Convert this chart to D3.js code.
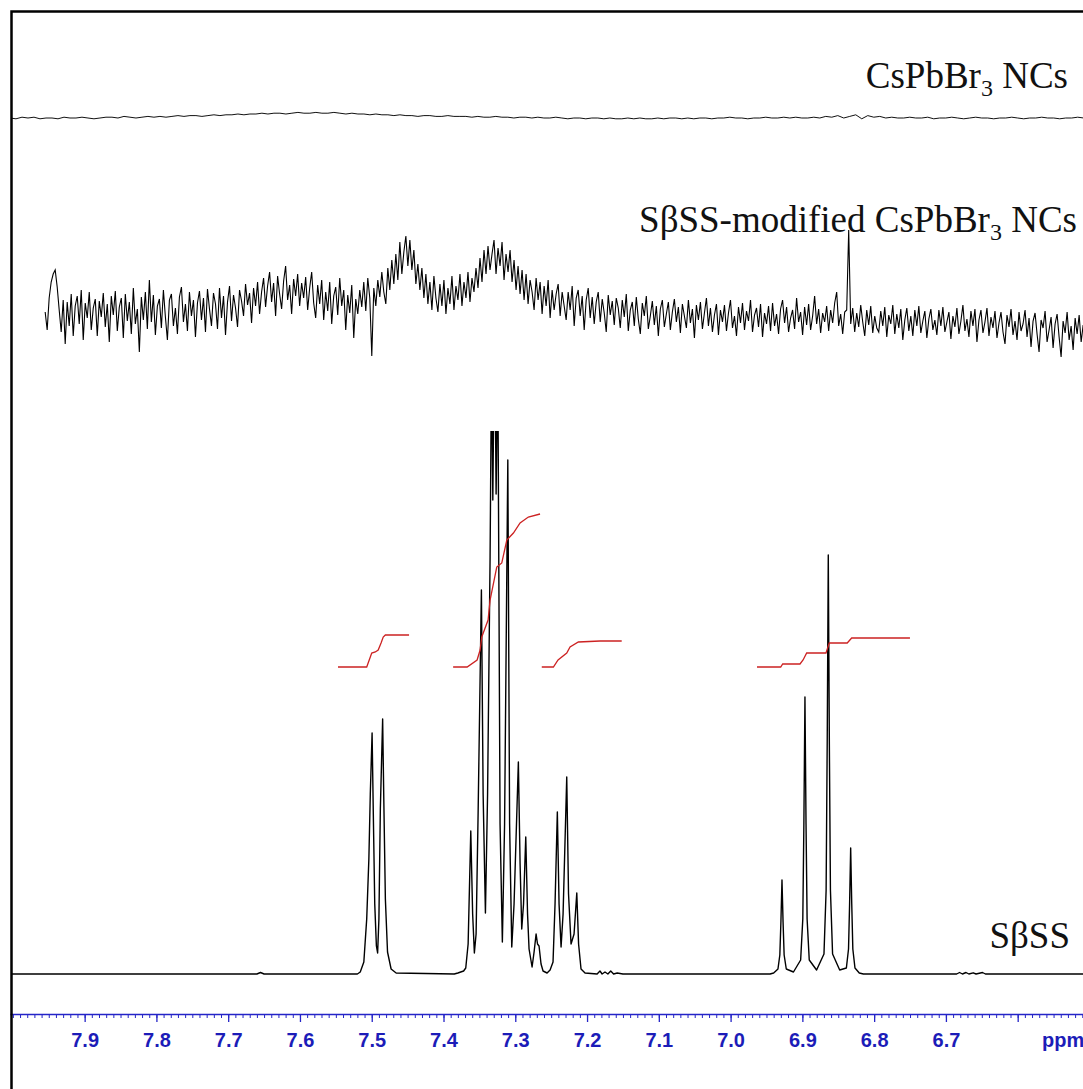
<!DOCTYPE html>
<html>
<head>
<meta charset="utf-8">
<script src="https://cdn.jsdelivr.net/npm/d3@7/dist/d3.min.js"></script>
<style>
  body { margin: 0; background: #fff; }
  .axis text { font-family: "Liberation Sans", Arial, sans-serif; font-weight: bold; fill: #1c1cb8; }
  .axis path, .axis line { stroke: #2424c8; }
  .label { font-family: "Liberation Serif", "Times New Roman", serif; font-size: 37px; fill: #111; }
</style>
</head>
<body>
<div id="vis"></div>
<script>

////////// data //////////

// ppm axis
var majorTicks = [7.9, 7.8, 7.7, 7.6, 7.5, 7.4, 7.3, 7.2, 7.1, 7.0, 6.9, 6.8, 6.7, 6.6];
var tickLabels = ["7.9", "7.8", "7.7", "7.6", "7.5", "7.4", "7.3", "7.2", "7.1", "7.0", "6.9", "6.8", "6.7", ""];

// SβSS spectrum, [ppm, intensity]
var sbssSpectrum = [
    [8.010, 0], [7.660, 0], [7.655, 1.5], [7.650, 0], [7.520, 0],
    [7.516, 2], [7.511, 12], [7.507, 55], [7.504, 115], [7.502, 180], [7.4995, 241], [7.4978, 160],
    [7.4958, 70], [7.4935, 28], [7.4918, 21], [7.490, 55], [7.488, 165], [7.4848, 255], [7.4832, 175],
    [7.481, 75], [7.478, 22], [7.473, 5], [7.466, 1], [7.385, 0], [7.380, 1], [7.372, 3], [7.369, 6],
    [7.3657, 30], [7.362, 143], [7.3594, 60], [7.357, 21], [7.3546, 40], [7.3518, 160], [7.3472, 384],
    [7.3448, 180], [7.3416, 61], [7.3386, 180], [7.3351, 417], [7.333, 620], [7.3313, 474], [7.3288, 660],
    [7.3267, 480], [7.3244, 620], [7.3212, 150], [7.318, 32], [7.3149, 150], [7.3104, 514], [7.3079, 150],
    [7.3049, 27], [7.3017, 70], [7.2957, 212], [7.2933, 110], [7.291, 45], [7.2885, 70], [7.2854, 137],
    [7.2829, 60], [7.2808, 25], [7.2766, 7], [7.2738, 22], [7.271, 40], [7.269, 30], [7.2669, 28],
    [7.2641, 10], [7.2613, 3], [7.2557, 1], [7.2515, 4], [7.2474, 12], [7.2446, 70], [7.2414, 162],
    [7.239, 70], [7.2362, 27], [7.2334, 60], [7.2283, 197], [7.2258, 80], [7.2223, 30], [7.2181, 40],
    [7.2143, 81], [7.2118, 30], [7.2084, 5], [7.2028, 1], [7.186, 0], [7.182, 3], [7.179, 0], [7.175, 2],
    [7.171, 0], [7.167, 3], [7.163, 0], [7.158, 1], [7.150, 0],
    [6.945, 0], [6.940, 1], [6.934, 5], [6.9314, 19], [6.9299, 52], [6.9284, 94], [6.9269, 52],
    [6.9254, 19], [6.9224, 5], [6.9124, 2], [6.9024, 14], [6.8994, 55], [6.8979, 150], [6.8964, 277],
    [6.8949, 150], [6.8934, 55], [6.8904, 14], [6.8802, 4], [6.8699, 20], [6.8669, 84], [6.8654, 230],
    [6.8639, 419], [6.8624, 230], [6.8609, 84], [6.8579, 20], [6.848, 4], [6.8387, 6], [6.8357, 25],
    [6.8342, 70], [6.8327, 126], [6.8312, 70], [6.8297, 25], [6.8267, 6], [6.8207, 1], [6.815, 0],
    [6.685, 0], [6.681, 1.5], [6.677, 0], [6.672, 1.5], [6.668, 0], [6.662, 1.2], [6.658, 0],
    [6.649, 1.5], [6.645, 0], [6.500, 0]
];

// integral curves (red), [ppm, level]
var integral1 = [[7.547, 307], [7.507, 307], [7.500, 321], [7.495, 322], [7.491, 324], [7.487, 331], [7.484, 337], [7.481, 339], [7.448, 339]];
var integral2 = [[7.3866, 307], [7.3671, 307], [7.3532, 314], [7.349, 324], [7.3467, 337], [7.3379, 354], [7.3351, 374],
    [7.3258, 407], [7.3188, 411], [7.3118, 434], [7.3026, 441], [7.2933, 451], [7.2818, 457], [7.2655, 460]];
var integral3 = [[7.2631, 307], [7.2469, 307], [7.2404, 314], [7.2283, 321], [7.2237, 327], [7.2121, 332], [7.1819, 333], [7.1517, 333]];
var integral4 = [[6.9632, 307], [6.9302, 307], [6.9274, 310], [6.9033, 310], [6.8990, 314], [6.8940, 321], [6.8671, 321],
    [6.8625, 331], [6.8375, 331], [6.8313, 336], [6.7501, 336]];

// SβSS-modified CsPbBr3 NCs trace, evenly spaced from 7.955 to 6.506 ppm
var modStart = 7.955, modEnd = 6.506;
var modifiedTrace = [
    0, -18, 14, 30, 38, 42, 25, 2, -20, 12, -32, 10, -14, 18, -24, 6, 16, -12, 22, -28, 9, -6, 20, -18, 4, 13,
    -24, 11, -5, 19, -15, 8, -30, 16, -3, 21, -19, 5, 14, -26, 18, -9, 10, -22, 24, -12, 3, -40, 15, -8, 20, -17,
    32, -10, 17, -23, 6, 13, -16, 22, -5, -28, 12, 18, -14, 4, -22, 15, 25, -10, 8, -19, 20, -4, 12, -25, 9, 21,
    -8, 14, -20, 23, 3, -14, 19, 8, -17, 24, -6, 16, -23, 10, 26, -9, 17, 4, -15, 22, 11, -4, 28, 7, 19, -11,
    24, 6, 30, -2, 20, 34, 5, 26, 40, 10, 29, -4, 36, 18, 3, 31, 46, 12, 27, -2, 33, 16, 38, 6, 29, 14,
    35, 2, 24, 40, 9, -6, 27, 8, 32, -8, 20, 1, 30, -12, 16, 25, -3, 34, 6, 22, -18, 17, -1, 27, -26, 13,
    -2, 22, 5, 30, 1, 34, 14, -44, 24, 6, 32, 15, 40, 20, 8, 44, 22, 52, 28, 58, 32, 70, 38, 60, 76, 46,
    72, 42, 62, 28, 48, 22, 44, 14, 38, 8, 30, 2, 36, 14, 0, 28, 6, 32, -2, 24, 8, 36, 2, 26, 12, 38,
    6, 30, 14, 40, 10, 34, 20, 44, 24, 54, 30, 62, 38, 66, 42, 58, 72, 38, 64, 46, 70, 32, 58, 40, 62, 30,
    52, 22, 46, 18, 42, 12, 38, 8, 32, 20, 2, 34, 12, 30, -2, 26, 6, 32, -6, 22, 2, 18, 28, -4, 20, 6,
    -8, 20, 2, 26, -14, 14, 22, -4, 16, -18, 12, 24, -6, 15, -12, 10, 20, -10, 13, -1, -20, 17, -3, 11, -13, 14,
    4, -16, 12, -5, 18, -19, 2, 10, -14, 15, -7, -22, 9, -4, 16, -17, -4, 11, -13, 6, -24, 3, 12, -15, -2, 10,
    -18, 0, 13, -10, 5, -21, 8, -4, -16, 12, -11, 3, -26, 7, -8, 10, -17, -1, 14, -14, 4, -20, -3, 8, -23, 2,
    -10, 7, -19, -1, 12, -16, -4, -24, 5, -11, 9, -18, 1, -9, 12, -20, -3, 4, -15, 8, -25, -1, -12, 6, -19, 9,
    -14, -2, -22, 3, 12, -11, 5, -20, -6, 2, -17, 14, -10, 0, -23, 5, -13, 8, -18, -4, 16, -12, 3, -21, -1, -10,
    6, -19, 2, -11, 9, 20, -14, -2, -22, 0, 2, 82, -12, 4, -20, -1, -15, 7, -10, -24, 2, -13, 6, -21, -4, -16,
    -20, 1, -14, 5, -25, -3, -12, 7, -22, -2, -16, 3, -28, -8, 4, -19, -4, -24, 2, -14, 6, -21, -9, 1, -26, -7,
    3, -18, -8, -23, 2, -14, 5, -20, -10, 0, -27, -4, -15, 4, -22, -9, 7, -19, -7, -25, 1, -14, 3, -30, -8, 2,
    -21, -10, 4, -24, -5, -16, 1, -26, -11, 0, -20, -32, -3, -15, 3, -23, -9, -28, 0, -19, -12, 2, -25, -6, -35, -9,
    -1, -22, -40, -8, -16, 1, -30, -18, -5, -36, -12, -2, -25, -45, -9, -21, 0, -28, -14, -38, -6, -22, -3, -30, -13, -24
];

// CsPbBr3 NCs trace, evenly spaced from 8.004 to 6.508 ppm
var nanoStart = 8.004, nanoEnd = 6.508;
var nanoTrace = [
    0, -1, 1, 0, 1, -1, 0, 0, -1, 1, 0, 0, 1, 0, -1, 0, 1, 1, 0, 2, 1, 0, 1, 2, 1,
    2, 1, 2, 3, 2, 3, 3, 2, 3, 4, 3, 4, 4, 5, 4, 5, 5, 6, 5, 6, 6, 5, 6, 7, 6,
    6, 7, 6, 6, 7, 6, 5, 6, 5, 5, 4, 5, 4, 4, 3, 4, 3, 3, 2, 3, 3, 2, 2, 3, 2,
    2, 2, 1, 2, 1, 1, 2, 1, 1, 0, 1, 1, 0, 1, 0, 0, 1, 0, -1, 0, 0, -1, 0, 0, -1,
    0, -1, -1, 0, -1, 0, -1, -1, 0, -1, 0, 0, -1, 0, -1, 0, 0, -1, 0, 0, 1, 0, 0, -1, 0,
    0, 1, 0, 0, 1, 0, 1, 0, 0, 1, 0, 2, 1, 3, 0, 2, 4, -1, 3, 1, 2, 0, 1, 0, 0,
    1, 0, 0, 1, -1, 0, 0, 1, 0, -1, 0, 1, 0, 0, -1, 0, 0, 1, 0, -1, 0, 0, 1, 0, 0, -1, 0, 0, 1, 0
];

////////// chart //////////

var width = 1083,
    height = 1089;

var svg = d3.select("#vis")
    .append("svg")
    .attr("width", width)
    .attr("height", height);

svg.append("rect")
    .attr("width", width)
    .attr("height", height)
    .attr("fill", "#fff");

var x = d3.scaleLinear()
    .domain([8.004, 6.509])
    .range([10, 1083]);

// one scale for each stacked trace
var yLower = d3.scaleLinear().domain([0, 544]).range([974, 430]);
var yModified = d3.scaleLinear().domain([0, 100]).range([312, 212]);
var yNano = d3.scaleLinear().domain([0, 10]).range([118, 110]);

var defs = svg.append("defs");
defs.append("clipPath")
    .attr("id", "frame-clip")
    .append("rect")
    .attr("x", 11).attr("y", 11)
    .attr("width", width).attr("height", height);
defs.append("clipPath")
    .attr("id", "lower-clip")
    .append("rect")
    .attr("x", 11).attr("y", 431)
    .attr("width", width).attr("height", 600);

function evenTrace(values, start, end) {
    var step = (end - start) / (values.length - 1);
    return values.map(function (v, i) {
        return [start + i * step, v];
    });
}

var plot = svg.append("g").attr("clip-path", "url(#frame-clip)");

// top trace
plot.append("path")
    .datum(evenTrace(nanoTrace, nanoStart, nanoEnd))
    .attr("fill", "none")
    .attr("stroke", "#111")
    .attr("stroke-width", 1)
    .attr("d", d3.line().x(function (d) { return x(d[0]); }).y(function (d) { return yNano(d[1]); }));

// middle trace
plot.append("path")
    .datum(evenTrace(modifiedTrace, modStart, modEnd))
    .attr("fill", "none")
    .attr("stroke", "#000")
    .attr("stroke-width", 1.1)
    .attr("d", d3.line().x(function (d) { return x(d[0]); }).y(function (d) { return yModified(d[1]); }));

// bottom spectrum, tall peaks cut at the top
var lowerLine = d3.line()
    .x(function (d) { return x(d[0]); })
    .y(function (d) { return yLower(d[1]); });

plot.append("g")
    .attr("clip-path", "url(#lower-clip)")
    .append("path")
    .datum(sbssSpectrum)
    .attr("fill", "none")
    .attr("stroke", "#000")
    .attr("stroke-width", 1.4)
    .attr("stroke-linejoin", "round")
    .attr("d", lowerLine);

[integral1, integral2, integral3, integral4].forEach(function (seg) {
    plot.append("path")
        .datum(seg)
        .attr("fill", "none")
        .attr("stroke", "#cc2222")
        .attr("stroke-width", 1.3)
        .attr("d", lowerLine);
});

////////// labels //////////

function addLabel(xEnd, yBase, parts) {
    var t = svg.append("text")
        .attr("class", "label")
        .attr("x", xEnd)
        .attr("y", yBase)
        .attr("text-anchor", "end");
    t.append("tspan").text(parts[0]);
    if (parts.length > 1) {
        t.append("tspan").attr("dy", 8).style("font-size", "24px").text(parts[1]);
        t.append("tspan").attr("dy", -8).text(parts[2]);
    }
}

addLabel(1068, 88, ["CsPbBr", "3", " NCs"]);
addLabel(1077, 232, ["S\u03b2SS-modified CsPbBr", "3", " NCs"]);
addLabel(1070, 948, ["S\u03b2SS"]);

////////// axis //////////

var minorTicks = d3.range(651, 801).map(function (i) { return i / 100; });

svg.append("g")
    .attr("class", "axis")
    .attr("transform", "translate(0,1014)")
    .call(d3.axisBottom(x).tickValues(minorTicks).tickSize(4).tickSizeOuter(0).tickFormat(""))
    .call(function (g) { g.select(".domain").remove(); });

var axis = svg.append("g")
    .attr("class", "axis")
    .attr("transform", "translate(0,1014)")
    .call(d3.axisBottom(x)
        .tickValues(majorTicks)
        .tickSize(8)
        .tickSizeOuter(0)
        .tickFormat(function (d, i) { return tickLabels[i]; }));

axis.select(".domain").attr("stroke-width", 1.3);
axis.selectAll(".tick line").attr("stroke-width", 1.3);
axis.selectAll(".tick text")
    .attr("y", 33)
    .attr("dy", 0)
    .style("font-size", "20px");

axis.append("text")
    .attr("x", 1042)
    .attr("y", 33)
    .attr("text-anchor", "start")
    .style("font-size", "20px")
    .text("ppm");

// frame
svg.append("path")
    .attr("d", "M11.5," + height + "V11.5H" + width)
    .attr("fill", "none")
    .attr("stroke", "#000")
    .attr("stroke-width", 2.5);

</script>
</body>
</html>
